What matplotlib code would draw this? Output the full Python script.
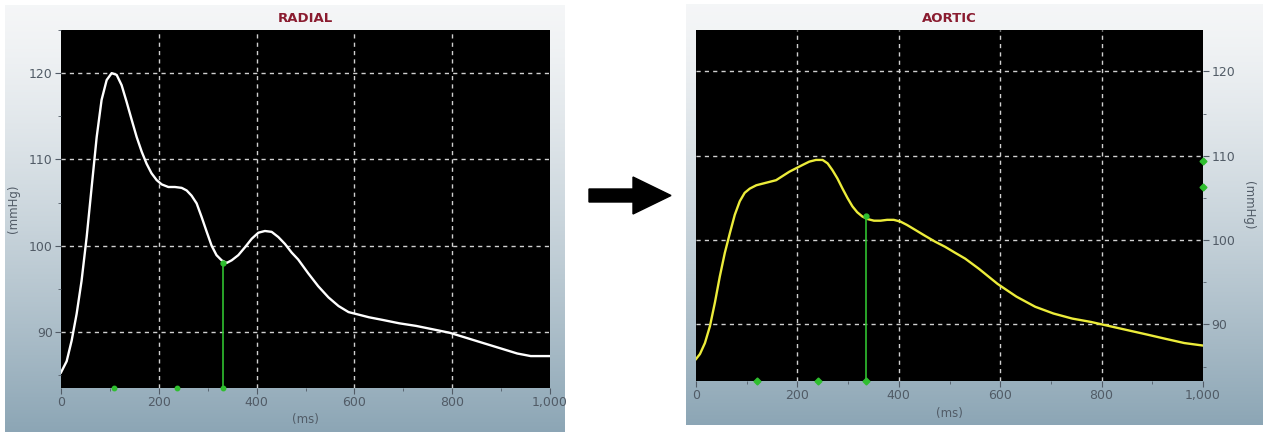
import numpy as np
import matplotlib
matplotlib.use("Agg")
import matplotlib.pyplot as plt
from matplotlib.patches import Polygon
from matplotlib.ticker import MultipleLocator, FuncFormatter

# ---- data ----
radial_t = [0, 11.6, 21.8, 32, 42, 52.5, 62.7, 73, 83, 93.4, 103.6, 113.8, 124, 134, 144.5,
            154.7, 165, 175, 185, 195.6, 206, 219.5, 233, 246.8, 257, 267, 277.4, 287.7,
            298, 308, 318, 328.5, 338.8, 349, 362.6, 376, 390, 403.5, 417, 430.8, 444.4,
            458, 471.7, 485, 505.5, 526, 547, 567.6, 588, 609, 629.7, 657, 691.7, 726,
            760.7, 795, 829.7, 864, 898.6, 933, 960.7, 1000]
radial_p = [85.3, 86.6, 89.0, 92.1, 95.9, 101.0, 106.8, 112.6, 116.9, 119.2, 120.0, 119.8,
            118.6, 116.7, 114.6, 112.6, 110.9, 109.5, 108.4, 107.6, 107.1, 106.8, 106.8,
            106.7, 106.4, 105.8, 104.9, 103.3, 101.6, 100.0, 98.9, 98.3, 98.0, 98.3, 98.9,
            99.8, 100.8, 101.5, 101.7, 101.6, 101.0, 100.2, 99.2, 98.4, 96.8, 95.3, 94.0,
            93.0, 92.3, 92.0, 91.7, 91.4, 91.0, 90.7, 90.3, 89.9, 89.3, 88.7, 88.1, 87.5,
            87.2, 87.2]

aortic_t = [0, 7.8, 17.6, 27.5, 37.3, 47, 56.9, 66.7, 76.5, 86.3, 96, 106, 119, 132, 145,
            158, 171, 184, 197, 210, 223.5, 236.6, 249.7, 259.5, 269, 279, 289, 298.7,
            308.5, 318, 328, 338, 351, 364, 377, 390, 403, 416, 432.7, 452, 472, 491.5,
            511, 531, 558, 595, 632, 669, 705, 742, 779, 816, 853, 890, 926, 963, 1000]
aortic_p = [85.9, 86.5, 87.8, 89.8, 92.6, 95.7, 98.5, 100.8, 103.0, 104.6, 105.6, 106.1,
            106.5, 106.7, 106.9, 107.1, 107.6, 108.1, 108.5, 108.9, 109.3, 109.5, 109.5,
            109.1, 108.3, 107.3, 106.1, 105.0, 104.0, 103.3, 102.8, 102.5, 102.3, 102.3,
            102.4, 102.4, 102.2, 101.8, 101.2, 100.5, 99.8, 99.2, 98.5, 97.8, 96.6, 94.8,
            93.3, 92.1, 91.3, 90.7, 90.3, 89.8, 89.3, 88.8, 88.3, 87.8, 87.5]

radial_markers_t = [108, 237, 332]
radial_line_t = 332
radial_line_p = 98.0

aortic_markers_t = [121, 241, 335]
aortic_line_t = 335
aortic_line_p = 102.8
aortic_side_markers = [109.4, 106.3]

x_ticks = [0, 200, 400, 600, 800, 1000]
y_ticks = [90, 100, 110, 120]

W, H = 1267, 437
fig = plt.figure(figsize=(W / 100, H / 100), dpi=100)
fig.patch.set_facecolor("white")

def px_rect(x0, y0, x1, y1):
    return [x0 / W, 1 - y1 / H, (x1 - x0) / W, (y1 - y0) / H]

# gradient panel backgrounds
grad = np.linspace(0, 1, 256)[:, None]
top = np.array([0.96, 0.965, 0.97])
bot = np.array([0.55, 0.65, 0.71])
g = np.clip(grad ** 1.3, 0, 1)
img = top[None, None, :] * (1 - g[:, :, None]) + bot[None, None, :] * g[:, :, None]
for rect in [px_rect(5, 5, 565, 432), px_rect(686, 4, 1262, 425)]:
    bax = fig.add_axes(rect, zorder=0)
    bax.imshow(img, aspect="auto", extent=[0, 1, 0, 1])
    bax.axis("off")

tick_color = "#515b66"
grid_color = "#d0d0d0"
green = "#2fbf2f"
fmt = FuncFormatter(lambda v, p: "1,000" if v == 1000 else f"{int(v)}")

def style(ax, title, right=False):
    ax.set_facecolor("black")
    ax.set_xlim(0, 1000)
    ax.set_xticks(x_ticks)
    ax.xaxis.set_major_formatter(fmt)
    ax.set_yticks(y_ticks)
    ax.xaxis.set_minor_locator(MultipleLocator(100))
    ax.yaxis.set_minor_locator(MultipleLocator(5))
    ax.grid(True, which="major", color=grid_color, linestyle=(0, (3, 3)), linewidth=1)
    gl = ax.xaxis.get_gridlines()
    gl[0].set_visible(False)
    gl[-1].set_visible(False)
    for s in ax.spines.values():
        s.set_visible(False)
    ax.tick_params(which="major", length=4, color=tick_color, labelcolor=tick_color,
                   labelsize=9, pad=2)
    ax.tick_params(which="minor", length=2.5, color=tick_color)
    if right:
        ax.yaxis.tick_right()
        ax.yaxis.set_label_position("right")
        ax.set_ylabel("(mmHg)", color=tick_color, fontsize=8.5, rotation=270, labelpad=14)
    else:
        ax.set_ylabel("(mmHg)", color=tick_color, fontsize=8.5, labelpad=6)
    ax.set_xlabel("(ms)", color=tick_color, fontsize=8.5, labelpad=3)
    ax.set_title(title, color="#8a1c30", fontsize=9.5, fontweight="bold", pad=6)

# RADIAL
ax1 = fig.add_axes(px_rect(61, 30, 550, 388), zorder=2)
ax1.set_ylim(83.5, 125)
style(ax1, "RADIAL")
ax1.plot(radial_t, radial_p, color="white", lw=1.7, solid_joinstyle="round")
ax1.vlines(radial_line_t, 83.5, radial_line_p, color=green, lw=1.2)
ax1.plot(radial_markers_t, [83.5] * len(radial_markers_t), "o", color=green, ms=3.2,
         clip_on=False, zorder=5)
ax1.plot([radial_line_t], [radial_line_p], "o", color=green, ms=3.5, zorder=5)

# AORTIC
ax2 = fig.add_axes(px_rect(696, 30, 1203, 381), zorder=2)
ax2.set_ylim(83.3, 124.9)
style(ax2, "AORTIC", right=True)
ax2.plot(aortic_t, aortic_p, color="#ecec3a", lw=1.7, solid_joinstyle="round")
ax2.vlines(aortic_line_t, 83.3, aortic_line_p, color=green, lw=1.2)
ax2.plot(aortic_markers_t, [83.3] * len(aortic_markers_t), "D", color=green, ms=3.5,
         clip_on=False, zorder=5)
ax2.plot([aortic_line_t], [aortic_line_p], "o", color=green, ms=3.5, zorder=5)
ax2.plot([1000] * len(aortic_side_markers), aortic_side_markers, "D", color=green, ms=3.5,
         clip_on=False, zorder=5)

# arrow between panels (pixel geometry)
arrow_px = [(589, 189), (633, 189), (633, 177), (671, 195.5), (633, 214), (633, 202), (589, 202)]
arrow = Polygon([(x / W, 1 - y / H) for x, y in arrow_px], closed=True,
                transform=fig.transFigure, facecolor="black", edgecolor="black")
fig.add_artist(arrow)

fig.savefig("out.png", dpi=100)
